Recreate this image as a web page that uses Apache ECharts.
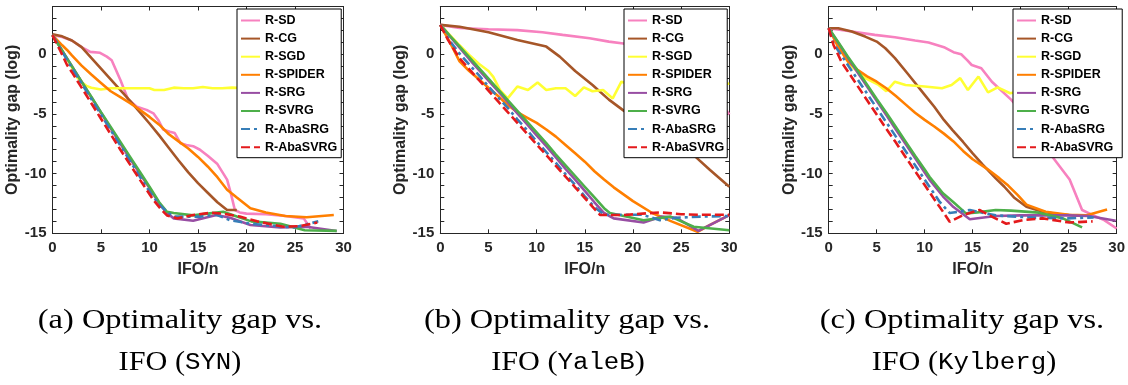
<!DOCTYPE html>
<html>
<head>
<meta charset="utf-8">
<script src="https://cdn.jsdelivr.net/npm/echarts@6/dist/echarts.min.js"></script>
<style>
  html, body { margin: 0; padding: 0; background: #ffffff; }
  #chart { width: 1128px; height: 385px; }
</style>
</head>
<body>
<div id="chart"></div>
<script>
// Methods compared in every panel (legend order)
const methodNames = ['R-SD', 'R-CG', 'R-SGD', 'R-SPIDER', 'R-SRG', 'R-SVRG', 'R-AbaSRG', 'R-AbaSVRG'];

// Axis ranges and labelled ticks
const xTickLabels = [0, 5, 10, 15, 20, 25, 30];
const yTickLabels = [-15, -10, -5, 0];

// ---- SYN: [IFO/n, log optimality gap] ----
const synSD = [[0,1.62],[1,1.45],[2,1.15],[3,0.6],[3.9,0.2],[4.9,0.12],[5.6,-0.2],[6.1,-0.5],[7,-2.15],[7.8,-3.8],[8.7,-4.4],[9.7,-4.66],[10.4,-4.95],[10.9,-5.5],[11.4,-6.3],[12.1,-6.5],[12.6,-6.6],[13.2,-7.46],[13.8,-7.6],[14.5,-7.7],[15.2,-8.0],[16,-8.5],[17,-9.2],[18,-10.5],[18.4,-11.7],[18.8,-13.05],[19.3,-13.25],[20,-13.35],[22,-13.4],[24,-13.55],[25.9,-13.75],[26.6,-14.6]];
const synCG = [[0,1.68],[1,1.5],[2,1.15],[3,0.6],[4,-0.3],[5,-1.2],[6,-2.1],[7,-3.0],[8,-3.9],[9,-4.85],[10,-5.8],[11,-6.8],[12,-7.85],[13,-8.9],[14,-9.9],[15,-10.8],[16,-11.6],[17,-12.4],[18,-13.05],[19,-13.05]];
const synSGD = [[0,1.6],[1,0.3],[2,-1.1],[2.5,-1.9],[3,-2.35],[3.5,-2.65],[4,-2.8],[5,-2.95],[6,-2.85],[7,-2.85],[8,-2.85],[9,-2.85],[10,-2.85],[10.5,-3.0],[11.5,-3.0],[12.5,-2.8],[13.5,-2.85],[14.5,-2.85],[15.5,-2.75],[16.5,-2.85],[17.5,-2.85],[18.5,-2.8],[20,-2.85],[22,-2.8],[24,-2.9],[26,-2.85],[28,-2.8]];
const synSPIDER = [[0,1.6],[1,0.75],[1.5,0.36],[2,-0.1],[3,-0.95],[4,-1.7],[5,-2.4],[6,-3.1],[7,-3.6],[8,-4.1],[9,-4.65],[10,-5.25],[11,-5.9],[12,-6.7],[13,-7.3],[14,-7.9],[15,-8.6],[16,-9.4],[17,-10.3],[18,-11.35],[19,-12.0],[20.4,-12.9],[22,-13.25],[24,-13.55],[26.2,-13.65],[29,-13.47]];
const synSRG = [[0,1.6],[1,0.3],[2,-1.0],[3,-2.3],[4,-3.6],[5,-4.9],[6,-6.2],[7,-7.5],[8,-8.75],[9,-10.0],[10,-11.2],[11,-12.5],[11.8,-13.3],[12.5,-13.75],[14.5,-13.95],[16.9,-13.47],[18.3,-13.7],[20.4,-14.3],[23.5,-14.5],[26.2,-14.45],[29.3,-14.8]];
const synSVRG = [[0,1.6],[1,0.3],[2,-1.0],[3,-2.3],[4,-3.55],[5,-4.85],[6,-6.1],[7,-7.35],[8,-8.6],[9,-9.85],[10,-11.1],[11,-12.4],[11.8,-13.2],[12.5,-13.3],[14.5,-13.5],[16,-13.35],[17.6,-13.2],[19,-13.6],[20.5,-14.0],[23.5,-14.2],[26,-14.75],[29.3,-14.8]];
const synAbaSRG = [[0,1.6],[0.5,0.9],[1,0.2],[2,-1.15],[3,-2.45],[4,-3.75],[5,-5.05],[6,-6.35],[7,-7.65],[8,-8.95],[9,-10.25],[10,-11.5],[11,-12.6],[11.8,-13.2],[12.5,-13.6],[15.2,-13.6],[16.9,-13.45],[18.3,-13.9],[20.4,-14.2],[23.8,-14.45],[25,-14.5],[27.4,-14.0]];
const synAbaSVRG = [[0,1.6],[0.3,1.1],[0.8,0.3],[1.5,-0.9],[2,-1.5],[3,-2.8],[4,-4.1],[5,-5.4],[6,-6.7],[7,-8.0],[8,-9.25],[9,-10.5],[9.5,-11.1],[10.4,-12.2],[11.2,-13.0],[11.8,-13.5],[12.9,-13.75],[14.5,-13.47],[16.3,-13.28],[17.6,-13.35],[19.3,-13.6],[21.1,-14.0],[23.8,-14.45],[25.5,-14.4],[27.3,-14.1]];

// ---- YaleB ----
const yaleSD = [[0,2.46],[2,2.2],[5,2.1],[8,2.02],[10.6,1.84],[12.7,1.62],[15.5,1.34],[17.5,1.06],[19,0.9],[21,0.55],[23,0.0],[25,-0.9],[27,-2.2],[29,-3.9],[30,-5.05]];
const yaleCG = [[0,2.46],[2,2.3],[5,1.85],[8,1.2],[11,0.64],[12.4,-0.2],[14,-1.4],[15.8,-2.57],[17.5,-3.8],[19,-4.7],[21,-5.8],[23,-6.9],[25,-7.8],[26.5,-8.6],[28,-9.7],[30,-11.1]];
const yaleSGD = [[0,2.46],[1,1.6],[2,0.75],[3,-0.05],[4,-0.8],[5,-1.4],[5.5,-1.9],[6.2,-3.0],[7,-3.7],[8,-2.7],[9.1,-3.0],[10.1,-2.37],[11,-3.0],[12,-2.85],[13,-2.85],[14,-3.5],[14.9,-2.77],[15.8,-3.1],[16.9,-3.0],[17.9,-3.7],[18.8,-2.3],[20,-2.6],[22,-2.5],[24,-2.8],[26,-2.4],[28,-2.7],[30,-2.45]];
const yaleSPIDER = [[0,2.46],[1,1.0],[2,-0.6],[3,-1.4],[4,-2.1],[5,-2.8],[6,-3.5],[7,-4.25],[8,-4.85],[9,-5.3],[10,-5.75],[11,-6.3],[12,-6.9],[13,-7.6],[14,-8.3],[15,-9.0],[16,-9.8],[17,-10.5],[18,-11.15],[20,-12.3],[22,-13.3],[24,-14.0],[26.7,-14.87],[28,-14.3],[30,-13.47]];
const yaleSRG = [[0,2.46],[1,1.5],[2,0.55],[3,-0.4],[4,-1.3],[5,-2.2],[6,-3.1],[7,-4.0],[8,-4.95],[9,-5.85],[10,-6.8],[11,-7.7],[12,-8.65],[13,-9.6],[14,-10.5],[15,-11.45],[16,-12.4],[17,-13.3],[18,-13.75],[21.1,-14.1],[23,-13.6],[24.5,-13.7],[26.8,-14.8],[30,-13.47]];
const yaleSVRG = [[0,2.46],[1,1.55],[2,0.65],[3,-0.25],[4,-1.15],[5,-2.05],[6,-2.95],[7,-3.85],[8,-4.75],[9,-5.65],[10,-6.55],[11,-7.45],[12,-8.4],[13,-9.3],[14,-10.2],[15,-11.1],[16,-12.0],[17,-12.9],[17.6,-13.3],[21.1,-13.9],[23.9,-13.6],[26.3,-14.45],[30,-14.75]];
const yaleAbaSRG = [[0,2.46],[1,1.1],[2,0.05],[3,-0.85],[4,-1.75],[5,-2.7],[6,-3.6],[7,-4.5],[8,-5.45],[9,-6.35],[10,-7.3],[11,-8.2],[12,-9.1],[13,-10.05],[14,-10.95],[15,-11.9],[16,-12.8],[17,-13.45],[21,-13.45],[22.8,-13.9],[24.5,-13.7],[27,-13.6],[30,-13.55]];
const yaleAbaSVRG = [[0,2.46],[0.8,1.2],[2,-0.33],[3,-1.25],[4,-2.15],[5,-3.05],[6,-3.95],[7,-4.85],[8,-5.75],[9,-6.65],[10,-7.55],[11,-8.45],[12,-9.35],[13,-10.25],[14,-11.15],[15,-12.05],[16,-12.95],[16.6,-13.47],[19,-13.47],[22.8,-13.25],[25,-13.4],[27,-13.45],[30,-13.45]];

// ---- Kylberg ----
const kylSD = [[0,2.18],[2.4,1.9],[4.8,1.62],[6.9,1.42],[9,1.15],[10.4,0.98],[12.1,0.56],[13,0.17],[13.8,0.0],[14.4,-0.47],[14.9,-0.9],[15.9,-1.17],[17,-2.3],[19,-3.8],[21,-5.6],[23.3,-8.58],[25.1,-10.5],[26.4,-13.05],[27.3,-13.4],[28.7,-13.9],[30,-14.6]];
const kylCG = [[0,2.18],[1,2.18],[2.4,1.9],[3.8,1.48],[5,1.06],[5.9,0.5],[6.9,-0.33],[8.3,-1.7],[10,-3.4],[11,-4.4],[12,-5.5],[12.9,-6.35],[14,-7.35],[15,-8.3],[16,-9.2],[17.4,-10.4],[18.3,-11.1],[19.3,-12.0],[20.6,-12.77],[22.3,-13.2],[24,-13.4],[26.4,-13.55]];
const kylSGD = [[0,2.18],[1,0.8],[2,-0.5],[2.4,-1.03],[3.8,-2.0],[5.2,-2.57],[6,-3.1],[6.9,-2.3],[8,-2.57],[10,-2.7],[11.8,-2.85],[12.8,-2.57],[13.7,-2.0],[14.5,-3.0],[15.6,-1.87],[16.6,-3.2],[17.6,-2.77],[18.9,-3.27],[20,-3.1],[22,-2.9],[24,-3.0],[26,-2.8],[28,-3.0],[30,-2.9]];
const kylSPIDER = [[0,2.18],[1,0.6],[2,-0.6],[3,-1.3],[4,-1.85],[5,-2.3],[6,-2.85],[7,-3.5],[8,-4.2],[9,-4.9],[10,-5.5],[11,-6.05],[12,-6.65],[13,-7.3],[14,-8.1],[15,-8.8],[16.5,-9.6],[17.8,-10.4],[18.7,-11.0],[19.7,-11.8],[20.6,-12.6],[22.6,-13.2],[25,-13.45],[26.8,-13.5],[29,-13.0]];
const kylSRG = [[0,2.18],[1,0.95],[2,-0.3],[3,-1.5],[4,-2.7],[5,-3.9],[6,-5.1],[7,-6.3],[8,-7.5],[9,-8.7],[10,-9.9],[10.5,-10.5],[11.9,-11.9],[13,-12.8],[14.7,-13.83],[17.4,-13.55],[20,-13.5],[22.6,-13.5],[25,-13.5],[27.1,-13.55],[29.9,-13.95]];
const kylSVRG = [[0,2.18],[1,1.0],[2,-0.2],[3,-1.35],[4,-2.55],[5,-3.75],[6,-4.9],[7,-6.1],[8,-7.3],[9,-8.5],[10,-9.65],[10.5,-10.26],[11.9,-11.65],[13,-12.4],[14.3,-13.33],[15.5,-13.25],[17.4,-13.05],[19,-13.1],[21.9,-13.27],[24.4,-13.75],[26.4,-14.5]];
const kylAbaSRG = [[0,2.18],[0.5,0.9],[1,0.3],[2,-0.9],[3,-2.1],[4,-3.3],[5,-4.5],[6,-5.7],[7,-6.9],[8,-8.1],[9,-9.3],[10,-10.5],[10.5,-11.1],[11.5,-12.3],[12.6,-13.3],[14.7,-13.05],[17.4,-13.5],[20.9,-13.67],[24.9,-13.75],[27.6,-13.67]];
const kylAbaSVRG = [[0,2.18],[0.5,0.78],[1.4,-0.75],[2,-1.45],[3,-2.65],[4,-3.85],[5,-5.05],[6,-6.25],[7,-7.4],[8,-8.6],[9,-9.8],[10,-10.95],[11,-12.15],[12,-13.3],[12.6,-14.03],[14,-13.47],[15.7,-13.05],[17,-13.6],[18.5,-14.2],[20.2,-13.9],[22.3,-13.75],[25.1,-14.1],[27.5,-14.0]];

// Panel captions
const captionLine1 = ['(a) Optimality gap vs.', '(b) Optimality gap vs.', '(c) Optimality gap vs.'];
const datasetNames = ['SYN', 'YaleB', 'Kylberg'];

const panelData = [
  [synSD, synCG, synSGD, synSPIDER, synSRG, synSVRG, synAbaSRG, synAbaSVRG],
  [yaleSD, yaleCG, yaleSGD, yaleSPIDER, yaleSRG, yaleSVRG, yaleAbaSRG, yaleAbaSVRG],
  [kylSD, kylCG, kylSGD, kylSPIDER, kylSRG, kylSVRG, kylAbaSRG, kylAbaSVRG]
];

// Line colours (ColorBrewer Set1) and dash patterns per method
const lineColors = ['#f781bf', '#a65628', '#ffff33', '#ff7f00', '#984ea3', '#4daf4a', '#377eb8', '#e41a1c'];
const lineDashes = ['solid', 'solid', 'solid', 'solid', 'solid', 'solid', [9, 4, 3, 4], [9, 4]];

// Layout of the three plot boxes
const gridLefts = [52.5, 440.3, 828.7];
const gridWidths = [291, 289, 289];
const gridTop = 6.5;
const gridHeight = 226.8;
const legendLefts = [237, 624, 1013];
const legendRightPad = [4, 3, 9];
const captionCenters = [[180, 180], [567, 568], [962, 964]];

const AXIS_COLOR = '#262626';
const SANS = '"Liberation Sans", Arial, Helvetica, sans-serif';
const SERIF = '"Liberation Serif", "Times New Roman", serif';
const MONO = '"Liberation Mono", "DejaVu Sans Mono", monospace';

const grids = [], xAxes = [], yAxes = [], series = [], legends = [], graphics = [];

for (let p = 0; p < 3; p++) {
  grids.push({ left: gridLefts[p], top: gridTop, width: gridWidths[p], height: gridHeight, containLabel: false });

  const xBase = {
    type: 'value', gridIndex: p, min: xTickLabels[0], max: xTickLabels[xTickLabels.length - 1], interval: 5,
    splitLine: { show: false },
    axisLine: { show: true, onZero: false, lineStyle: { color: AXIS_COLOR, width: 1 } },
    axisTick: { show: true, inside: true, length: 4, lineStyle: { color: AXIS_COLOR } }
  };
  xAxes.push(Object.assign({}, xBase, {
    position: 'bottom',
    name: 'IFO/n', nameLocation: 'middle', nameGap: 28,
    nameTextStyle: { fontFamily: SANS, fontWeight: 'bold', fontSize: 16, color: AXIS_COLOR },
    axisLabel: {
      show: true, margin: 7, fontFamily: SANS, fontWeight: 'bold', fontSize: 15, color: AXIS_COLOR,
      formatter: v => (xTickLabels.indexOf(v) >= 0 ? String(v) : '')
    }
  }));
  xAxes.push(Object.assign({}, xBase, { position: 'top', axisLabel: { show: false } }));

  const yBase = {
    type: 'value', gridIndex: p, min: -15, max: 4, interval: 1,
    splitLine: { show: false },
    axisLine: { show: true, onZero: false, lineStyle: { color: AXIS_COLOR, width: 1 } },
    axisTick: { show: true, inside: true, length: 4, lineStyle: { color: AXIS_COLOR } }
  };
  yAxes.push(Object.assign({}, yBase, {
    position: 'left',
    name: 'Optimality gap (log)', nameLocation: 'middle', nameGap: 24, nameRotate: 90,
    nameTextStyle: { fontFamily: SANS, fontWeight: 'bold', fontSize: 16, color: AXIS_COLOR },
    axisLabel: {
      show: true, margin: 6, fontFamily: SANS, fontWeight: 'bold', fontSize: 15, color: AXIS_COLOR,
      formatter: v => (yTickLabels.indexOf(v) >= 0 ? String(v) : '')
    }
  }));
  yAxes.push(Object.assign({}, yBase, { position: 'right', axisLabel: { show: false } }));

  methodNames.forEach((name, m) => {
    series.push({
      type: 'line', name: name,
      xAxisIndex: 2 * p, yAxisIndex: 2 * p,
      data: panelData[p][m],
      symbol: 'none', showSymbol: false, smooth: false, clip: true,
      lineStyle: { color: lineColors[m], width: 2.6, type: lineDashes[m] },
      itemStyle: { color: lineColors[m] },
      emphasis: { disabled: true },
      z: 2 + m
    });
  });

  legends.push({
    data: methodNames,
    orient: 'vertical',
    left: legendLefts[p], top: 9,
    padding: [5, legendRightPad[p], 4, 3],
    itemWidth: 19, itemHeight: 14, itemGap: 5.1, itemTextGap: 4,
    backgroundColor: '#ffffff', borderColor: '#000000', borderWidth: 1, borderRadius: 0,
    selectedMode: false,
    itemStyle: { opacity: 0 },
    textStyle: { fontFamily: SANS, fontWeight: 'bold', fontSize: 12.5, color: '#000000' },
    z: 20
  });

  // Two-line caption under each panel
  graphics.push({
    type: 'text', x: captionCenters[p][0], y: 321, scaleX: 1.2, scaleY: 1,
    style: {
      text: captionLine1[p], fontFamily: SERIF, fontSize: 27,
      fill: '#000000', align: 'center', verticalAlign: 'middle'
    }
  });
  graphics.push({
    type: 'text', x: captionCenters[p][1], y: 363, scaleX: 1.12, scaleY: 1,
    style: {
      text: '{s|IFO (}{m|' + datasetNames[p] + '}{s|)}',
      align: 'center', verticalAlign: 'middle',
      rich: {
        s: { fontFamily: SERIF, fontSize: 27, fill: '#000000' },
        m: { fontFamily: MONO, fontSize: 23, fill: '#000000' }
      }
    }
  });
}

const chart = echarts.init(document.getElementById('chart'), null, { renderer: 'canvas' });
chart.setOption({
  animation: false,
  backgroundColor: '#ffffff',
  grid: grids,
  xAxis: xAxes,
  yAxis: yAxes,
  legend: legends,
  series: series,
  graphic: graphics
});
</script>
</body>
</html>
